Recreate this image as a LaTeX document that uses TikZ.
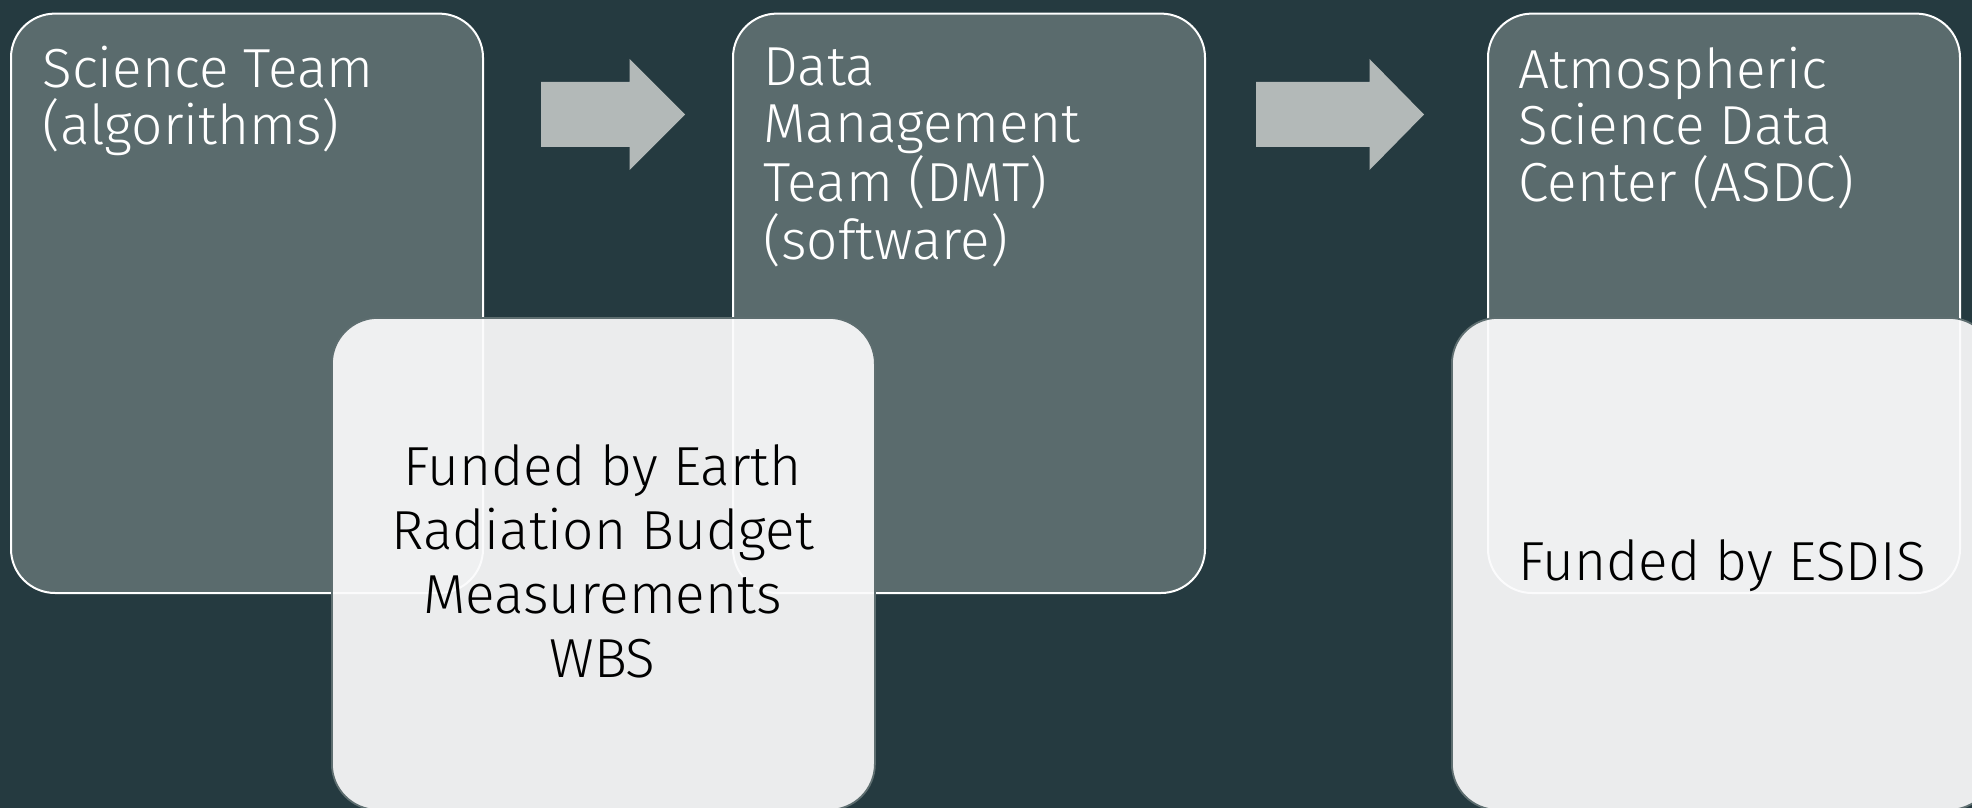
\documentclass[tikz,border=0pt]{standalone}
\usepackage{fontspec}
\setmainfont{Fira Sans}[UprightFont=* Light]
\definecolor{bgc}{HTML}{253A40}
\definecolor{boxc}{HTML}{5A6B6D}
\definecolor{arrc}{HTML}{B3B9B8}
\definecolor{lowc}{HTML}{FBFBFC}
\definecolor{lowline}{HTML}{5E6E70}
\begin{document}
\begin{tikzpicture}[x=0.5pt,y=-0.5pt,
  upbox/.style={draw=white, line width=1pt, fill=boxc, rounded corners=22pt,
    inner sep=0pt, anchor=north west, minimum width=236pt, minimum height=289.7pt},
  lowbox/.style={draw=lowline, line width=0.9pt, fill=lowc, fill opacity=0.925,
    rounded corners=23pt, inner sep=0pt, anchor=north west, minimum width=271.5pt, minimum height=246pt},
  uptext/.style={text=white, font=\fontsize{27.5}{28.5}\selectfont, align=left, anchor=base west, inner sep=0pt},
  lowtext/.style={text=black, font=\fontsize{27.5}{32}\selectfont, align=center, anchor=base, inner sep=0pt},
  blockarrow/.style={fill=arrc}]
\fill[bgc] (0,0) rectangle (1972,808);
\useasboundingbox (0,0) rectangle (1972,808);
% upper boxes
\node[upbox] (st) at (10,12.6) {};
\node[upbox] (dmt) at (732,12.6) {};
\node[upbox] (asdc) at (1487,12.6) {};
% arrows
\fill[blockarrow] (541,82) -- (629.5,82) -- (629.5,59) -- (685,114.5) -- (629.5,170) -- (629.5,147) -- (541,147) -- cycle;
\fill[blockarrow] (1256,82) -- (1369.5,82) -- (1369.5,59) -- (1424,114.5) -- (1369.5,170) -- (1369.5,147) -- (1256,147) -- cycle;
% upper texts (anchor = baseline of last line)
\node[uptext] (stt) at (42,145) {Science Team\\(algorithms)};
\node[uptext] (dmtt) at (763,259) {Data\\Management\\Team (DMT)\\(software)};
\node[uptext] (asdct) at (1518,202) {Atmospheric\\Science Data\\Center (ASDC)};
% lower boxes
\node[lowbox] (fund1) at (331,317) {};
\node[lowbox] (fund2) at (1451,317) {};
\node[lowtext] (fund1t) at (602.5,677) {Funded by Earth\\Radiation Budget\\Measurements\\WBS};
\node[lowtext] (fund2t) at (1722,580) {Funded by ESDIS};
\end{tikzpicture}
\end{document}
